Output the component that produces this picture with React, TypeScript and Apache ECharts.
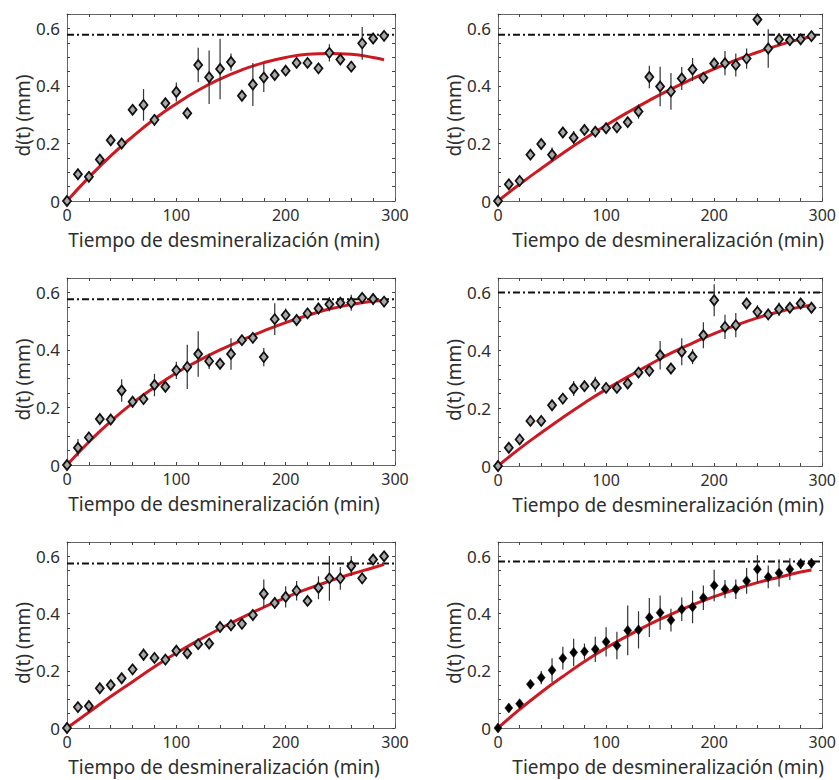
import React, { useEffect, useRef } from "react";
import * as echarts from "echarts";

const TIMES = [0, 10, 20, 30, 40, 50, 60, 70, 80, 90, 100, 110, 120, 130, 140, 150, 160, 170, 180, 190, 200, 210, 220, 230, 240, 250, 260, 270, 280, 290];
const FIT_TIMES = [0, 20, 40, 60, 80, 100, 120, 140, 160, 180, 200, 220, 240, 260, 280, 290];
const X_TICK_LABELS = [0, 100, 200, 300];
const Y_TICK_LABELS = [0, 0.2, 0.4, 0.6];
const X_TITLE = "Tiempo de desmineralización (min)";
const Y_TITLE = "d(t) (mm)";

const p1Values = [0, 0.093, 0.084, 0.144, 0.211, 0.2, 0.317, 0.334, 0.282, 0.34, 0.379, 0.305, 0.473, 0.43, 0.459, 0.483, 0.366, 0.405, 0.429, 0.438, 0.453, 0.48, 0.48, 0.461, 0.515, 0.492, 0.467, 0.548, 0.565, 0.574];
const p1Errors = [0, 0.01, 0.018, 0.012, 0.015, 0.012, 0.012, 0.055, 0.02, 0.015, 0.033, 0.01, 0.06, 0.093, 0.105, 0.03, 0.01, 0.075, 0.05, 0.01, 0.01, 0.01, 0.012, 0.01, 0.03, 0.015, 0.01, 0.057, 0.012, 0.017];
const p1Fit = [0, 0.082, 0.157, 0.224, 0.285, 0.338, 0.385, 0.424, 0.456, 0.481, 0.499, 0.51, 0.513, 0.51, 0.499, 0.491];
const p1Plateau = 0.578;

const p2Values = [0, 0.058, 0.07, 0.161, 0.198, 0.161, 0.238, 0.22, 0.247, 0.241, 0.253, 0.256, 0.274, 0.311, 0.431, 0.398, 0.381, 0.426, 0.457, 0.428, 0.478, 0.479, 0.473, 0.495, 0.631, 0.53, 0.562, 0.559, 0.562, 0.573];
const p2Errors = [0, 0.01, 0.01, 0.012, 0.012, 0.025, 0.012, 0.023, 0.02, 0.015, 0.012, 0.012, 0.012, 0.025, 0.039, 0.069, 0.064, 0.04, 0.04, 0.012, 0.015, 0.042, 0.04, 0.035, 0.01, 0.067, 0.02, 0.02, 0.015, 0.015];
const p2Fit = [0, 0.058, 0.113, 0.166, 0.216, 0.263, 0.308, 0.35, 0.389, 0.425, 0.459, 0.49, 0.517, 0.542, 0.563, 0.572];
const p2Plateau = 0.578;

const p3Values = [0, 0.06, 0.096, 0.16, 0.158, 0.259, 0.22, 0.229, 0.278, 0.272, 0.329, 0.341, 0.386, 0.361, 0.352, 0.386, 0.434, 0.442, 0.375, 0.507, 0.521, 0.504, 0.527, 0.544, 0.559, 0.564, 0.564, 0.581, 0.577, 0.568];
const p3Errors = [0, 0.03, 0.015, 0.012, 0.012, 0.039, 0.02, 0.015, 0.039, 0.015, 0.03, 0.077, 0.079, 0.027, 0.015, 0.055, 0.015, 0.015, 0.032, 0.055, 0.023, 0.017, 0.015, 0.02, 0.025, 0.015, 0.028, 0.013, 0.02, 0.013];
const p3Fit = [0, 0.08, 0.152, 0.215, 0.27, 0.32, 0.362, 0.4, 0.434, 0.466, 0.495, 0.52, 0.542, 0.558, 0.569, 0.572];
const p3Plateau = 0.576;

const p4Values = [0, 0.063, 0.092, 0.156, 0.156, 0.21, 0.233, 0.268, 0.276, 0.283, 0.27, 0.27, 0.285, 0.323, 0.329, 0.383, 0.337, 0.395, 0.378, 0.452, 0.573, 0.481, 0.487, 0.562, 0.533, 0.524, 0.542, 0.547, 0.562, 0.547];
const p4Errors = [0, 0.017, 0.012, 0.012, 0.012, 0.012, 0.015, 0.026, 0.02, 0.026, 0.012, 0.012, 0.012, 0.012, 0.012, 0.049, 0.012, 0.047, 0.026, 0.045, 0.055, 0.042, 0.042, 0.012, 0.023, 0.02, 0.023, 0.015, 0.015, 0.015];
const p4Fit = [0, 0.06, 0.115, 0.168, 0.218, 0.265, 0.308, 0.35, 0.39, 0.425, 0.458, 0.486, 0.512, 0.533, 0.55, 0.556];
const p4Plateau = 0.6;

const p5Values = [0, 0.073, 0.077, 0.139, 0.15, 0.174, 0.205, 0.256, 0.245, 0.239, 0.27, 0.261, 0.293, 0.295, 0.353, 0.359, 0.364, 0.395, 0.469, 0.437, 0.458, 0.48, 0.444, 0.49, 0.523, 0.523, 0.566, 0.523, 0.589, 0.6];
const p5Errors = [0, 0.015, 0.01, 0.012, 0.012, 0.012, 0.012, 0.022, 0.012, 0.015, 0.015, 0.012, 0.012, 0.012, 0.015, 0.015, 0.012, 0.012, 0.05, 0.02, 0.037, 0.034, 0.012, 0.04, 0.078, 0.04, 0.035, 0.02, 0.013, 0.013];
const p5Fit = [0, 0.055, 0.11, 0.162, 0.214, 0.262, 0.306, 0.347, 0.386, 0.422, 0.456, 0.486, 0.513, 0.538, 0.56, 0.572];
const p5Plateau = 0.575;

const p6Values = [0, 0.07, 0.085, 0.153, 0.176, 0.202, 0.244, 0.264, 0.267, 0.275, 0.301, 0.288, 0.341, 0.343, 0.386, 0.403, 0.377, 0.415, 0.423, 0.455, 0.498, 0.485, 0.485, 0.514, 0.555, 0.528, 0.542, 0.555, 0.574, 0.576];
const p6Errors = [0, 0.015, 0.012, 0.015, 0.023, 0.042, 0.04, 0.048, 0.028, 0.044, 0.051, 0.048, 0.087, 0.065, 0.068, 0.06, 0.04, 0.041, 0.057, 0.043, 0.055, 0.032, 0.034, 0.045, 0.049, 0.04, 0.048, 0.038, 0.018, 0.018];
const p6Fit = [0, 0.065, 0.125, 0.18, 0.232, 0.28, 0.322, 0.362, 0.397, 0.43, 0.459, 0.485, 0.508, 0.527, 0.545, 0.552];
const p6Plateau = 0.582;

const PANELS = [
  { values: p1Values, errors: p1Errors, fit: p1Fit, plateau: p1Plateau, filled: false },
  { values: p2Values, errors: p2Errors, fit: p2Fit, plateau: p2Plateau, filled: false },
  { values: p3Values, errors: p3Errors, fit: p3Fit, plateau: p3Plateau, filled: false },
  { values: p4Values, errors: p4Errors, fit: p4Fit, plateau: p4Plateau, filled: false },
  { values: p5Values, errors: p5Errors, fit: p5Fit, plateau: p5Plateau, filled: false },
  { values: p6Values, errors: p6Errors, fit: p6Fit, plateau: p6Plateau, filled: true },
];

const GRID_BOXES = [
  { left: 67, top: 14, width: 328, height: 187 },
  { left: 498, top: 14, width: 327, height: 187 },
  { left: 67, top: 278, width: 328, height: 187 },
  { left: 498, top: 278, width: 327, height: 188 },
  { left: 67, top: 542, width: 328, height: 186 },
  { left: 498, top: 542, width: 327, height: 186 },
];

const FONT = "'Noto Sans', 'Open Sans', sans-serif";
const TEXT_COLOR = "#2e2e2e";
const BOX_COLOR = "#666";

function buildOption() {
  const grid: any[] = [];
  const xAxis: any[] = [];
  const yAxis: any[] = [];
  const series: any[] = [];

  PANELS.forEach((p, i) => {
    grid.push({ ...GRID_BOXES[i], containLabel: false });
    const isLeft = i % 2 === 0;
    const baseX = {
      type: "value",
      gridIndex: i,
      min: 0,
      max: 300,
      interval: 20,
      splitLine: { show: false },
      axisLine: { show: true, onZero: false, lineStyle: { color: BOX_COLOR, width: 1 } },
      axisTick: { show: true, inside: true, length: 3, lineStyle: { color: "#444" } },
    };
    xAxis.push({
      ...baseX,
      position: "bottom",
      name: X_TITLE,
      nameLocation: "middle",
      nameGap: 29,
      nameTextStyle: {
        fontFamily: FONT,
        fontSize: 19,
        lineHeight: 19,
        color: TEXT_COLOR,
        padding: isLeft ? [0, 14, 0, 0] : [0, 0, 0, 16],
      },
      axisLabel: {
        show: true,
        margin: 6,
        fontFamily: FONT,
        fontSize: 16,
        lineHeight: 16,
        color: TEXT_COLOR,
        formatter: (v: number) => (X_TICK_LABELS.includes(Math.round(v)) ? String(Math.round(v)) : ""),
      },
    });
    xAxis.push({ ...baseX, position: "top", axisLabel: { show: false } });

    const baseY = {
      type: "value",
      gridIndex: i,
      min: 0,
      max: 0.65,
      interval: 0.05,
      splitLine: { show: false },
      axisLine: { show: true, onZero: false, lineStyle: { color: BOX_COLOR, width: 1 } },
      axisTick: { show: true, inside: true, length: 3, lineStyle: { color: "#444" } },
    };
    yAxis.push({
      ...baseY,
      position: "left",
      name: Y_TITLE,
      nameLocation: "middle",
      nameRotate: 90,
      nameGap: 33,
      nameTextStyle: {
        fontFamily: FONT,
        fontSize: 19,
        lineHeight: 19,
        color: TEXT_COLOR,
        padding: [0, 16, 0, 0],
      },
      axisLabel: {
        show: true,
        margin: 7,
        fontFamily: FONT,
        fontSize: 17,
        lineHeight: 17,
        color: TEXT_COLOR,
        formatter: (v: number) => {
          const hit = Y_TICK_LABELS.find((t) => Math.abs(t - v) < 1e-6);
          return hit === undefined ? "" : String(hit);
        },
      },
    });
    yAxis.push({ ...baseY, position: "right", axisLabel: { show: false } });

    const xi = i * 2;
    const yi = i * 2;

    series.push({
      type: "line",
      xAxisIndex: xi,
      yAxisIndex: yi,
      data: [
        [0, p.plateau],
        [300, p.plateau],
      ],
      symbol: "none",
      silent: true,
      lineStyle: { color: "#111", width: 2, type: [7, 3, 2, 3] },
      z: 1,
    });
    series.push({
      type: "line",
      xAxisIndex: xi,
      yAxisIndex: yi,
      data: FIT_TIMES.map((t, k) => [t, p.fit[k]]),
      smooth: true,
      symbol: "none",
      lineStyle: { color: "#cc1a22", width: 3 },
      z: 2,
    });
    series.push({
      type: "custom",
      xAxisIndex: xi,
      yAxisIndex: yi,
      data: TIMES.map((t, k) => [t, p.values[k], p.errors[k]]),
      renderItem: (params: any, api: any) => {
        const x = api.value(0);
        const y = api.value(1);
        const e = api.value(2);
        if (!e) return null;
        const a = api.coord([x, y - e]);
        const b = api.coord([x, y + e]);
        return {
          type: "line",
          shape: { x1: a[0], y1: a[1], x2: b[0], y2: b[1] },
          style: { stroke: "#333", lineWidth: 1.2 },
        };
      },
      z: 3,
    });
    series.push({
      type: "scatter",
      xAxisIndex: xi,
      yAxisIndex: yi,
      data: TIMES.map((t, k) => [t, p.values[k]]),
      symbol: "diamond",
      symbolSize: [8, 10],
      itemStyle: {
        color: p.filled ? "#000" : "#a8a8a8",
        borderColor: "#111",
        borderWidth: p.filled ? 0.5 : 1.8,
        opacity: 1,
      },
      z: 4,
    });
  });

  return {
    animation: false,
    backgroundColor: "#ffffff",
    grid,
    xAxis,
    yAxis,
    series,
  };
}

export default function App() {
  const ref = useRef<HTMLDivElement>(null);
  useEffect(() => {
    if (!ref.current) return;
    const chart = echarts.init(ref.current, undefined, { renderer: "svg" });
    chart.setOption(buildOption() as any);
    return () => chart.dispose();
  }, []);
  return (
    <div
      ref={ref}
      style={{ position: "absolute", left: 0, top: 0, width: 839, height: 780, background: "#fff" }}
    />
  );
}
